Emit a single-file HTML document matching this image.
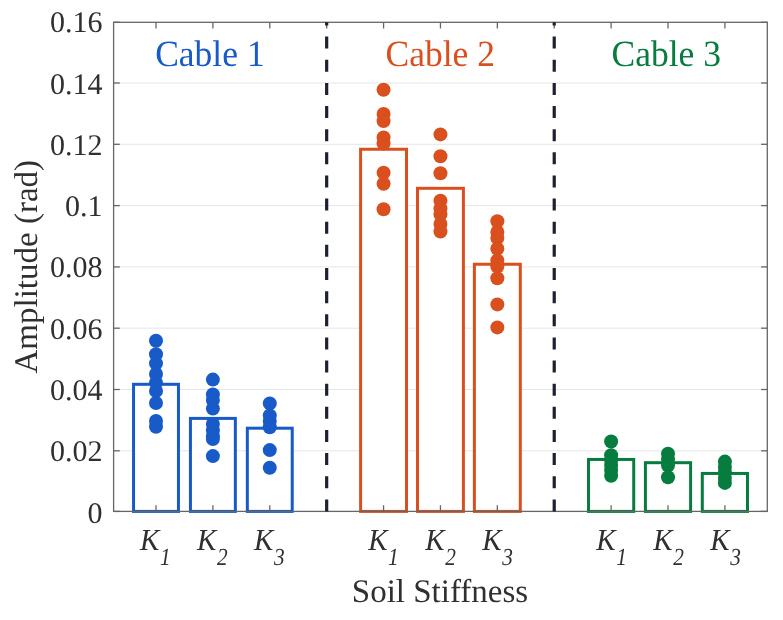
<!DOCTYPE html><html><head><meta charset="utf-8"><style>html,body{margin:0;padding:0;background:#fff;width:783px;height:620px;overflow:hidden}svg{display:block;will-change:transform}text{font-family:"Liberation Serif",serif;text-rendering:geometricPrecision}</style></head><body>
<svg width="783" height="620" viewBox="0 0 783 620">
<rect width="783" height="620" fill="#fff"/>
<line x1="113.6" y1="450.80" x2="767.3" y2="450.80" stroke="#e6e6e6" stroke-width="1"/>
<line x1="113.6" y1="389.50" x2="767.3" y2="389.50" stroke="#e6e6e6" stroke-width="1"/>
<line x1="113.6" y1="328.20" x2="767.3" y2="328.20" stroke="#e6e6e6" stroke-width="1"/>
<line x1="113.6" y1="266.90" x2="767.3" y2="266.90" stroke="#e6e6e6" stroke-width="1"/>
<line x1="113.6" y1="205.60" x2="767.3" y2="205.60" stroke="#e6e6e6" stroke-width="1"/>
<line x1="113.6" y1="144.30" x2="767.3" y2="144.30" stroke="#e6e6e6" stroke-width="1"/>
<line x1="113.6" y1="83.00" x2="767.3" y2="83.00" stroke="#e6e6e6" stroke-width="1"/>
<rect x="133.55" y="384.30" width="44.90" height="127.10" fill="#fff" stroke="#185ac8" stroke-width="3"/>
<rect x="190.44" y="418.40" width="44.90" height="93.00" fill="#fff" stroke="#185ac8" stroke-width="3"/>
<rect x="247.33" y="428.20" width="44.90" height="83.20" fill="#fff" stroke="#185ac8" stroke-width="3"/>
<rect x="360.61" y="149.25" width="45.90" height="362.15" fill="#fff" stroke="#da4f1e" stroke-width="3"/>
<rect x="417.50" y="188.30" width="45.90" height="323.10" fill="#fff" stroke="#da4f1e" stroke-width="3"/>
<rect x="474.39" y="264.25" width="45.90" height="247.15" fill="#fff" stroke="#da4f1e" stroke-width="3"/>
<rect x="588.52" y="459.45" width="45.20" height="51.95" fill="#fff" stroke="#067d3e" stroke-width="3"/>
<rect x="645.41" y="462.70" width="45.20" height="48.70" fill="#fff" stroke="#067d3e" stroke-width="3"/>
<rect x="702.30" y="473.45" width="45.20" height="37.95" fill="#fff" stroke="#067d3e" stroke-width="3"/>
<circle cx="156.00" cy="340.8" r="7.0" fill="#185ac8"/>
<circle cx="156.00" cy="354.2" r="7.0" fill="#185ac8"/>
<circle cx="156.00" cy="363.4" r="7.0" fill="#185ac8"/>
<circle cx="156.00" cy="374" r="7.0" fill="#185ac8"/>
<circle cx="156.00" cy="382.7" r="7.0" fill="#185ac8"/>
<circle cx="156.00" cy="391" r="7.0" fill="#185ac8"/>
<circle cx="156.00" cy="403" r="7.0" fill="#185ac8"/>
<circle cx="156.00" cy="421" r="7.0" fill="#185ac8"/>
<circle cx="156.00" cy="426.7" r="7.0" fill="#185ac8"/>
<circle cx="212.89" cy="379.6" r="7.0" fill="#185ac8"/>
<circle cx="212.89" cy="394.5" r="7.0" fill="#185ac8"/>
<circle cx="212.89" cy="400" r="7.0" fill="#185ac8"/>
<circle cx="212.89" cy="408.6" r="7.0" fill="#185ac8"/>
<circle cx="212.89" cy="424" r="7.0" fill="#185ac8"/>
<circle cx="212.89" cy="430.5" r="7.0" fill="#185ac8"/>
<circle cx="212.89" cy="436.5" r="7.0" fill="#185ac8"/>
<circle cx="212.89" cy="439" r="7.0" fill="#185ac8"/>
<circle cx="212.89" cy="456.1" r="7.0" fill="#185ac8"/>
<circle cx="269.78" cy="403.4" r="7.0" fill="#185ac8"/>
<circle cx="269.78" cy="415.5" r="7.0" fill="#185ac8"/>
<circle cx="269.78" cy="421" r="7.0" fill="#185ac8"/>
<circle cx="269.78" cy="427.3" r="7.0" fill="#185ac8"/>
<circle cx="269.78" cy="450.1" r="7.0" fill="#185ac8"/>
<circle cx="269.78" cy="467.7" r="7.0" fill="#185ac8"/>
<circle cx="383.56" cy="89.8" r="7.0" fill="#da4f1e"/>
<circle cx="383.56" cy="113.9" r="7.0" fill="#da4f1e"/>
<circle cx="383.56" cy="121.1" r="7.0" fill="#da4f1e"/>
<circle cx="383.56" cy="137.4" r="7.0" fill="#da4f1e"/>
<circle cx="383.56" cy="143.5" r="7.0" fill="#da4f1e"/>
<circle cx="383.56" cy="172.8" r="7.0" fill="#da4f1e"/>
<circle cx="383.56" cy="183.7" r="7.0" fill="#da4f1e"/>
<circle cx="383.56" cy="209.3" r="7.0" fill="#da4f1e"/>
<circle cx="440.45" cy="134.4" r="7.0" fill="#da4f1e"/>
<circle cx="440.45" cy="156.2" r="7.0" fill="#da4f1e"/>
<circle cx="440.45" cy="173.2" r="7.0" fill="#da4f1e"/>
<circle cx="440.45" cy="200.8" r="7.0" fill="#da4f1e"/>
<circle cx="440.45" cy="208.5" r="7.0" fill="#da4f1e"/>
<circle cx="440.45" cy="214.5" r="7.0" fill="#da4f1e"/>
<circle cx="440.45" cy="224" r="7.0" fill="#da4f1e"/>
<circle cx="440.45" cy="231.5" r="7.0" fill="#da4f1e"/>
<circle cx="497.34" cy="221.2" r="7.0" fill="#da4f1e"/>
<circle cx="497.34" cy="232" r="7.0" fill="#da4f1e"/>
<circle cx="497.34" cy="238" r="7.0" fill="#da4f1e"/>
<circle cx="497.34" cy="248.7" r="7.0" fill="#da4f1e"/>
<circle cx="497.34" cy="260.5" r="7.0" fill="#da4f1e"/>
<circle cx="497.34" cy="266.5" r="7.0" fill="#da4f1e"/>
<circle cx="497.34" cy="278.2" r="7.0" fill="#da4f1e"/>
<circle cx="497.34" cy="304.4" r="7.0" fill="#da4f1e"/>
<circle cx="497.34" cy="327.4" r="7.0" fill="#da4f1e"/>
<circle cx="611.12" cy="441.5" r="7.0" fill="#067d3e"/>
<circle cx="611.12" cy="455.2" r="7.0" fill="#067d3e"/>
<circle cx="611.12" cy="460" r="7.0" fill="#067d3e"/>
<circle cx="611.12" cy="465" r="7.0" fill="#067d3e"/>
<circle cx="611.12" cy="470" r="7.0" fill="#067d3e"/>
<circle cx="611.12" cy="475.7" r="7.0" fill="#067d3e"/>
<circle cx="668.01" cy="453.8" r="7.0" fill="#067d3e"/>
<circle cx="668.01" cy="459.5" r="7.0" fill="#067d3e"/>
<circle cx="668.01" cy="465.5" r="7.0" fill="#067d3e"/>
<circle cx="668.01" cy="477.2" r="7.0" fill="#067d3e"/>
<circle cx="724.90" cy="461.6" r="7.0" fill="#067d3e"/>
<circle cx="724.90" cy="467" r="7.0" fill="#067d3e"/>
<circle cx="724.90" cy="472.5" r="7.0" fill="#067d3e"/>
<circle cx="724.90" cy="478" r="7.0" fill="#067d3e"/>
<circle cx="724.90" cy="482.9" r="7.0" fill="#067d3e"/>
<rect x="113.6" y="22.3" width="653.6999999999999" height="489.09999999999997" fill="none" stroke="#666666" stroke-width="1.3"/>
<line x1="156.00" y1="511.4" x2="156.00" y2="505.2" stroke="#666666" stroke-width="1.3"/>
<line x1="156.00" y1="22.3" x2="156.00" y2="28.5" stroke="#666666" stroke-width="1.3"/>
<line x1="212.89" y1="511.4" x2="212.89" y2="505.2" stroke="#666666" stroke-width="1.3"/>
<line x1="212.89" y1="22.3" x2="212.89" y2="28.5" stroke="#666666" stroke-width="1.3"/>
<line x1="269.78" y1="511.4" x2="269.78" y2="505.2" stroke="#666666" stroke-width="1.3"/>
<line x1="269.78" y1="22.3" x2="269.78" y2="28.5" stroke="#666666" stroke-width="1.3"/>
<line x1="326.67" y1="511.4" x2="326.67" y2="505.2" stroke="#666666" stroke-width="1.3"/>
<line x1="326.67" y1="22.3" x2="326.67" y2="28.5" stroke="#666666" stroke-width="1.3"/>
<line x1="383.56" y1="511.4" x2="383.56" y2="505.2" stroke="#666666" stroke-width="1.3"/>
<line x1="383.56" y1="22.3" x2="383.56" y2="28.5" stroke="#666666" stroke-width="1.3"/>
<line x1="440.45" y1="511.4" x2="440.45" y2="505.2" stroke="#666666" stroke-width="1.3"/>
<line x1="440.45" y1="22.3" x2="440.45" y2="28.5" stroke="#666666" stroke-width="1.3"/>
<line x1="497.34" y1="511.4" x2="497.34" y2="505.2" stroke="#666666" stroke-width="1.3"/>
<line x1="497.34" y1="22.3" x2="497.34" y2="28.5" stroke="#666666" stroke-width="1.3"/>
<line x1="554.23" y1="511.4" x2="554.23" y2="505.2" stroke="#666666" stroke-width="1.3"/>
<line x1="554.23" y1="22.3" x2="554.23" y2="28.5" stroke="#666666" stroke-width="1.3"/>
<line x1="611.12" y1="511.4" x2="611.12" y2="505.2" stroke="#666666" stroke-width="1.3"/>
<line x1="611.12" y1="22.3" x2="611.12" y2="28.5" stroke="#666666" stroke-width="1.3"/>
<line x1="668.01" y1="511.4" x2="668.01" y2="505.2" stroke="#666666" stroke-width="1.3"/>
<line x1="668.01" y1="22.3" x2="668.01" y2="28.5" stroke="#666666" stroke-width="1.3"/>
<line x1="724.90" y1="511.4" x2="724.90" y2="505.2" stroke="#666666" stroke-width="1.3"/>
<line x1="724.90" y1="22.3" x2="724.90" y2="28.5" stroke="#666666" stroke-width="1.3"/>
<line x1="113.6" y1="511.40" x2="119.8" y2="511.40" stroke="#666666" stroke-width="1.3"/>
<line x1="767.3" y1="511.40" x2="761.0999999999999" y2="511.40" stroke="#666666" stroke-width="1.3"/>
<line x1="113.6" y1="450.80" x2="119.8" y2="450.80" stroke="#666666" stroke-width="1.3"/>
<line x1="767.3" y1="450.80" x2="761.0999999999999" y2="450.80" stroke="#666666" stroke-width="1.3"/>
<line x1="113.6" y1="389.50" x2="119.8" y2="389.50" stroke="#666666" stroke-width="1.3"/>
<line x1="767.3" y1="389.50" x2="761.0999999999999" y2="389.50" stroke="#666666" stroke-width="1.3"/>
<line x1="113.6" y1="328.20" x2="119.8" y2="328.20" stroke="#666666" stroke-width="1.3"/>
<line x1="767.3" y1="328.20" x2="761.0999999999999" y2="328.20" stroke="#666666" stroke-width="1.3"/>
<line x1="113.6" y1="266.90" x2="119.8" y2="266.90" stroke="#666666" stroke-width="1.3"/>
<line x1="767.3" y1="266.90" x2="761.0999999999999" y2="266.90" stroke="#666666" stroke-width="1.3"/>
<line x1="113.6" y1="205.60" x2="119.8" y2="205.60" stroke="#666666" stroke-width="1.3"/>
<line x1="767.3" y1="205.60" x2="761.0999999999999" y2="205.60" stroke="#666666" stroke-width="1.3"/>
<line x1="113.6" y1="144.30" x2="119.8" y2="144.30" stroke="#666666" stroke-width="1.3"/>
<line x1="767.3" y1="144.30" x2="761.0999999999999" y2="144.30" stroke="#666666" stroke-width="1.3"/>
<line x1="113.6" y1="83.00" x2="119.8" y2="83.00" stroke="#666666" stroke-width="1.3"/>
<line x1="767.3" y1="83.00" x2="761.0999999999999" y2="83.00" stroke="#666666" stroke-width="1.3"/>
<line x1="113.6" y1="22.30" x2="119.8" y2="22.30" stroke="#666666" stroke-width="1.3"/>
<line x1="767.3" y1="22.30" x2="761.0999999999999" y2="22.30" stroke="#666666" stroke-width="1.3"/>
<line x1="326.67" y1="511.4" x2="326.67" y2="22.3" stroke="#1c2030" stroke-width="3.2" stroke-dasharray="12 11.14"/>
<line x1="554.23" y1="511.4" x2="554.23" y2="22.3" stroke="#1c2030" stroke-width="3.2" stroke-dasharray="12 11.14"/>
<text x="102.5" y="522.60" font-size="30" fill="#303030" text-anchor="end">0</text>
<text x="102.5" y="461.32" font-size="30" fill="#303030" text-anchor="end">0.02</text>
<text x="102.5" y="400.04" font-size="30" fill="#303030" text-anchor="end">0.04</text>
<text x="102.5" y="338.76" font-size="30" fill="#303030" text-anchor="end">0.06</text>
<text x="102.5" y="277.48" font-size="30" fill="#303030" text-anchor="end">0.08</text>
<text x="102.5" y="216.20" font-size="30" fill="#303030" text-anchor="end">0.1</text>
<text x="102.5" y="154.92" font-size="30" fill="#303030" text-anchor="end">0.12</text>
<text x="102.5" y="93.64" font-size="30" fill="#303030" text-anchor="end">0.14</text>
<text x="102.5" y="32.36" font-size="30" fill="#303030" text-anchor="end">0.16</text>
<text transform="translate(140.05 549.7) scale(0.95 1)" font-size="30.5" fill="#303030" font-style="italic">K</text>
<text transform="translate(160.00 564.6) scale(0.87 1)" font-size="24.5" fill="#303030" font-style="italic">1</text>
<text transform="translate(197.08 549.7) scale(0.95 1)" font-size="30.5" fill="#303030" font-style="italic">K</text>
<text transform="translate(217.03 564.6) scale(0.87 1)" font-size="24.5" fill="#303030" font-style="italic">2</text>
<text transform="translate(254.11 549.7) scale(0.95 1)" font-size="30.5" fill="#303030" font-style="italic">K</text>
<text transform="translate(274.06 564.6) scale(0.87 1)" font-size="24.5" fill="#303030" font-style="italic">3</text>
<text transform="translate(368.17 549.7) scale(0.95 1)" font-size="30.5" fill="#303030" font-style="italic">K</text>
<text transform="translate(388.12 564.6) scale(0.87 1)" font-size="24.5" fill="#303030" font-style="italic">1</text>
<text transform="translate(425.20 549.7) scale(0.95 1)" font-size="30.5" fill="#303030" font-style="italic">K</text>
<text transform="translate(445.15 564.6) scale(0.87 1)" font-size="24.5" fill="#303030" font-style="italic">2</text>
<text transform="translate(482.23 549.7) scale(0.95 1)" font-size="30.5" fill="#303030" font-style="italic">K</text>
<text transform="translate(502.18 564.6) scale(0.87 1)" font-size="24.5" fill="#303030" font-style="italic">3</text>
<text transform="translate(596.29 549.7) scale(0.95 1)" font-size="30.5" fill="#303030" font-style="italic">K</text>
<text transform="translate(616.24 564.6) scale(0.87 1)" font-size="24.5" fill="#303030" font-style="italic">1</text>
<text transform="translate(653.32 549.7) scale(0.95 1)" font-size="30.5" fill="#303030" font-style="italic">K</text>
<text transform="translate(673.27 564.6) scale(0.87 1)" font-size="24.5" fill="#303030" font-style="italic">2</text>
<text transform="translate(710.35 549.7) scale(0.95 1)" font-size="30.5" fill="#303030" font-style="italic">K</text>
<text transform="translate(730.30 564.6) scale(0.87 1)" font-size="24.5" fill="#303030" font-style="italic">3</text>
<text x="440" y="601.7" font-size="33" fill="#303030" text-anchor="middle">Soil Stiffness</text>
<text transform="translate(37.2 266.7) rotate(-90)" font-size="33" fill="#303030" text-anchor="middle">Amplitude (rad)</text>
<text transform="translate(209.9 65.6) scale(0.96 1)" font-size="37" fill="#185ac8" text-anchor="middle">Cable 1</text>
<text transform="translate(440.2 65.6) scale(0.96 1)" font-size="37" fill="#da4f1e" text-anchor="middle">Cable 2</text>
<text transform="translate(666.2 65.6) scale(0.96 1)" font-size="37" fill="#067d3e" text-anchor="middle">Cable 3</text>
</svg></body></html>
